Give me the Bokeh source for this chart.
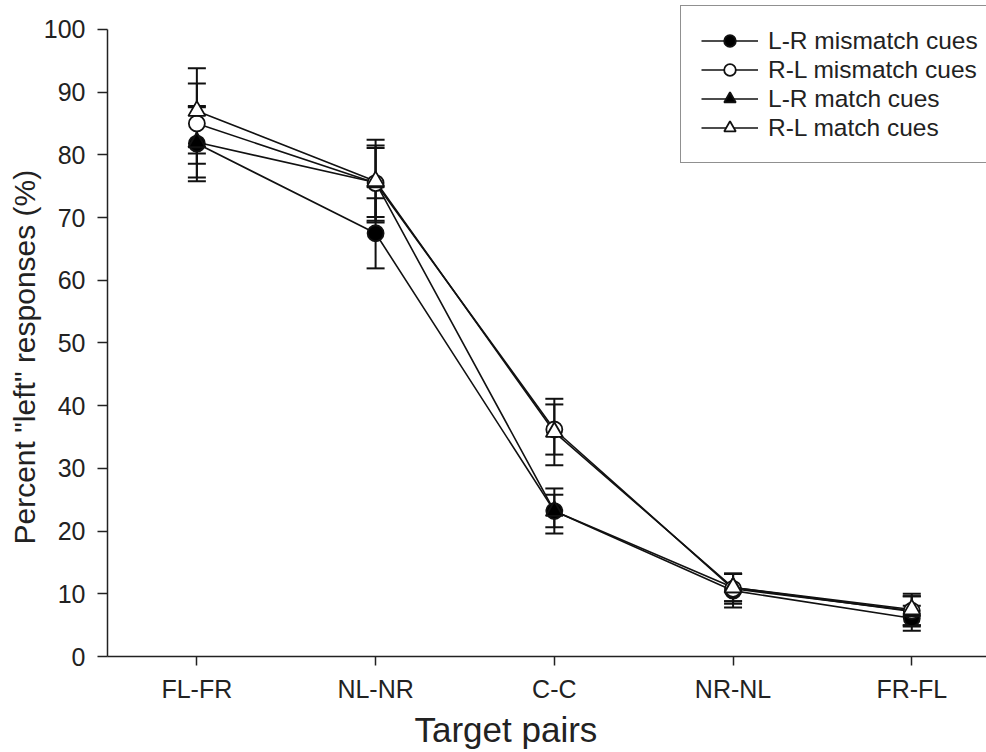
from bokeh.plotting import figure
from bokeh.models import (ColumnDataSource, Whisker, TeeHead, Legend, LegendItem,
                          FixedTicker, Range1d, Title)
from bokeh.embed import file_html
from bokeh.resources import INLINE

categories = ["FL-FR", "NL-NR", "C-C", "NR-NL", "FR-FL"]
xpos = [1, 2, 3, 4, 5]

series_names = ["L-R mismatch cues", "R-L mismatch cues", "L-R match cues", "R-L match cues"]
lr_mismatch = [81.8, 67.5, 23.2, 10.5, 6.1]
lr_mismatch_err = [6.0, 5.6, 3.6, 2.7, 2.0]
rl_mismatch = [85.0, 75.5, 36.2, 10.8, 7.3]
rl_mismatch_err = [6.4, 6.0, 4.0, 2.4, 2.3]
lr_match = [82.0, 75.6, 23.2, 11.0, 7.2]
lr_match_err = [5.6, 5.5, 2.6, 2.2, 2.4]
rl_match = [87.0, 75.8, 35.8, 11.0, 7.5]
rl_match_err = [6.8, 6.6, 5.3, 2.2, 2.5]

y_ticks = [0, 10, 20, 30, 40, 50, 60, 70, 80, 90, 100]
x_title = "Target pairs"
y_title = 'Percent "left" responses (%)'

FONT = "Liberation Sans"

p = figure(width=986, height=752, output_backend="svg", toolbar_location=None,
           x_range=Range1d(0.5, 5.418), y_range=Range1d(0, 104.62),
           min_border_left=107, min_border_top=0, min_border_bottom=96, min_border_right=0)
p.outline_line_color = None
p.grid.visible = False
p.background_fill_color = "white"
p.border_fill_color = "white"

# axes
p.xaxis.ticker = FixedTicker(ticks=xpos)
p.xaxis.major_label_overrides = {x: c for x, c in zip(xpos, categories)}
p.yaxis.ticker = FixedTicker(ticks=y_ticks)
p.yaxis.bounds = (0, 100)
for ax in (p.xaxis, p.yaxis):
    ax.axis_line_width = 1.5
    ax.axis_line_color = "#222222"
    ax.major_tick_line_color = "#222222"
    ax.major_tick_line_width = 1.5
    ax.major_tick_in = 0
    ax.minor_tick_line_color = None
    ax.major_label_text_font = FONT
    ax.major_label_text_font_size = "25px"
    ax.major_label_text_color = "#222222"
p.xaxis.major_tick_out = 9
p.yaxis.major_tick_out = 10
p.xaxis.major_label_standoff = 9
p.yaxis.major_label_standoff = 12

# axis titles (placed to match the reference)
p.add_layout(Title(text=x_title, align="left", offset=307, standoff=5,
                   text_font=FONT, text_font_size="35px", text_font_style="normal",
                   text_color="#222222"), "below")
p.add_layout(Title(text=y_title, align="left", offset=112, standoff=0,
                   text_font=FONT, text_font_size="30px", text_font_style="normal",
                   text_color="#222222"), "left")

all_vals = [lr_mismatch, rl_mismatch, lr_match, rl_match]
all_errs = [lr_mismatch_err, rl_mismatch_err, lr_match_err, rl_match_err]
markers = ["circle", "circle", "triangle", "triangle"]
fills = ["black", "white", "black", "white"]
sizes = [16, 16, 17, 17]

sources = []
for vals, errs in zip(all_vals, all_errs):
    src = ColumnDataSource(dict(
        x=xpos, y=vals,
        lo=[v - e for v, e in zip(vals, errs)],
        hi=[v + e for v, e in zip(vals, errs)],
    ))
    sources.append(src)

# error bars
for src in sources:
    w = Whisker(source=src, base="x", upper="hi", lower="lo",
                line_color="#111111", line_width=2,
                upper_head=TeeHead(size=18, line_color="#111111", line_width=2),
                lower_head=TeeHead(size=18, line_color="#111111", line_width=2),
                level="underlay")
    p.add_layout(w)

line_rs = []
for src in sources:
    line_rs.append(p.line("x", "y", source=src, line_color="#111111", line_width=1.6))

mark_rs = []
for src, m, f, s in zip(sources, markers, fills, sizes):
    mark_rs.append(p.scatter("x", "y", source=src, marker=m, size=s,
                             fill_color=f, line_color="#111111", line_width=1.8))

items = [LegendItem(label=n, renderers=[l, m]) for n, l, m in zip(series_names, line_rs, mark_rs)]
legend = Legend(items=items, location=(573, 493),
                label_text_font=FONT, label_text_font_size="24.5px", label_text_color="#222222",
                glyph_width=57, glyph_height=29, label_height=29, spacing=0, label_standoff=10,
                padding=20, margin=0,
                border_line_color="#222222", border_line_width=1.5,
                background_fill_color="white", background_fill_alpha=1.0)
p.add_layout(legend, "center")

open("out.html", "w").write(file_html(p, INLINE))
